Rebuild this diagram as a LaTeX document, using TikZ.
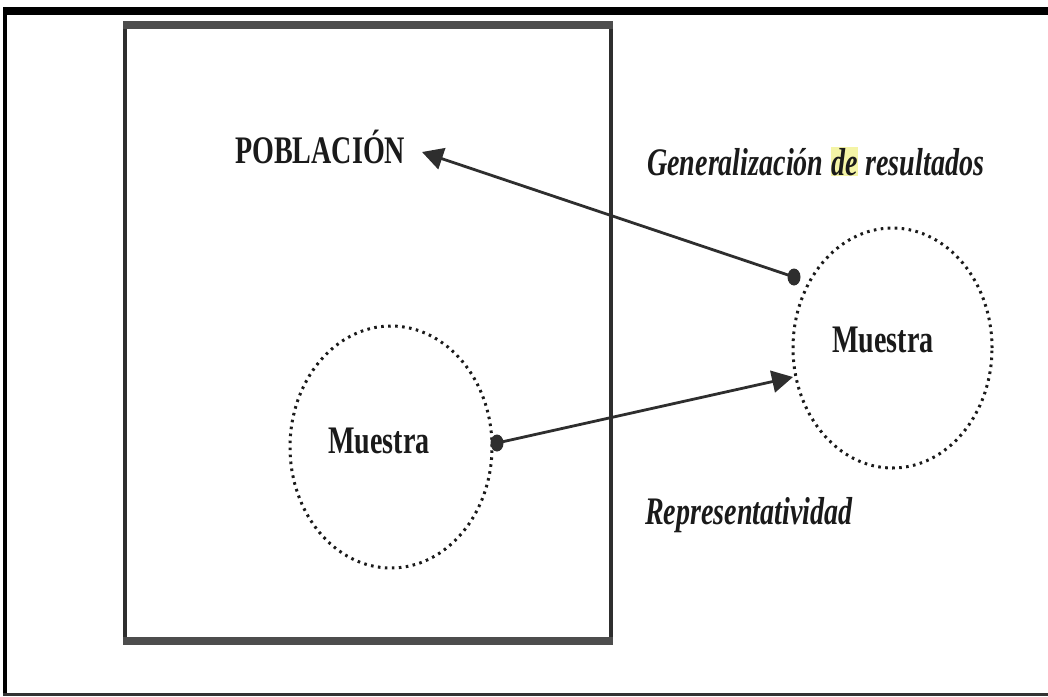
\documentclass[tikz,border=0pt]{standalone}
\usepackage{fontspec}
\usepackage{graphicx}
\setmainfont{Liberation Serif}
\usetikzlibrary{arrows.meta,shapes.geometric}
\definecolor{ink}{HTML}{1A1A1A}
\definecolor{lineink}{HTML}{2E2E2E}
\definecolor{hl}{HTML}{F4F4A6}
\newcommand\condtxt[1]{\scalebox{0.72}[1]{#1}}
\begin{document}
\begin{tikzpicture}[x=1pt,y=-1pt,
  lbl/.style={inner sep=0pt,anchor=base west,text=ink,font=\fontsize{39}{42}\selectfont\bfseries},
  ilbl/.style={lbl,font=\fontsize{39}{42}\selectfont\bfseries\itshape},
  dotring/.style={draw=ink,ellipse,line width=3pt,dash pattern=on 2.6pt off 4.4pt,line cap=butt,inner sep=0pt},
  blob/.style={ellipse,fill=lineink,draw=none,minimum width=13pt,minimum height=17pt,inner sep=0pt},
  conn/.style={draw=lineink,line width=2.8pt,-{Triangle[length=21pt,width=22pt]}}]
\useasboundingbox (0,0) rectangle (1048,696);
% outer frame
\fill[black] (3,7) rectangle (1048,15);
\fill[black] (3,7) rectangle (7,696);
\fill[black!80] (3,693) rectangle (1048,696);
% population box
\draw[lineink,line width=4pt] (125,25) rectangle (611,641);
\draw[lineink!85,line width=8pt] (123,25) -- (613,25);
\draw[lineink!85,line width=8pt] (123,641) -- (613,641);
% labels
\node[lbl] (pob) at (235,163) {\condtxt{POBLACIÓN}};
\node[ilbl] (gen) at (647,175) {\condtxt{Generalización \setlength{\fboxsep}{1pt}\colorbox{hl}{de} resultados}};
\node[ilbl] (rep) at (645,524) {\condtxt{Representatividad}};
% samples
\node[dotring,minimum width=202pt,minimum height=242pt] (m1) at (391,447) {};
\node[dotring,minimum width=199pt,minimum height=240pt] (m2) at (892.5,348) {};
\node[lbl] (t1) at (328,453) {\condtxt{Muestra}};
\node[lbl] (t2) at (832,352) {\condtxt{Muestra}};
% connectors
\node[blob] (d1) at (794,277) {};
\node[blob] (d2) at (497,443) {};
\coordinate (tip1) at (422,152);
\coordinate (tip2) at (793,377);
\draw[conn] (d1.center) -- (tip1);
\draw[conn] (d2.center) -- (tip2);
\end{tikzpicture}
\end{document}
